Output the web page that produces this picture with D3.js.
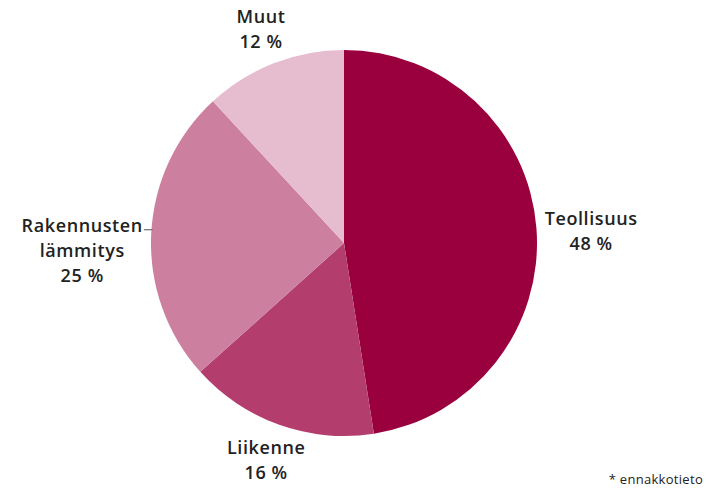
<!DOCTYPE html>
<html>
<head>
<meta charset="utf-8">
<script src="https://cdn.jsdelivr.net/npm/d3@7"></script>
<style>
  body { margin: 0; background: #fff; }
  text { font-family: "Open Sans", "DejaVu Sans", sans-serif; fill: #222; }
</style>
</head>
<body>
<div id="chart"></div>
<script>
(function() {
    var width = 712,
        height = 494;

    var categories = [["Teollisuus"], ["Liikenne"], ["Rakennusten", "lämmitys"], ["Muut"]];
    var shares = [48, 16, 25, 12];
    var colours = ["#99003d", "#b33d6d", "#cc7f9f", "#e6bccf"];

    var data = shares.map(function(v, i) {
        return { lines: categories[i], value: v, colour: colours[i] };
    });

    var cx = 344, cy = 243, radius = 193;

    var svg = d3.select("#chart")
        .append("svg")
        .attr("width", width)
        .attr("height", height);

    var g = svg.append("g")
        .attr("transform", "translate(" + cx + "," + cy + ")");

    var pie = d3.pie().sort(null).value(function(d) { return d.value; });
    var arc = d3.arc().innerRadius(0).outerRadius(radius);

    var arcs = pie(data);

    g.selectAll(".slice")
        .data(arcs)
        .enter().append("path")
        .attr("class", "slice")
        .attr("d", arc)
        .attr("fill", function(d) { return d.data.colour; });

    var lineH = 25;
    arcs.forEach(function(d) {
        var a = (d.startAngle + d.endAngle) / 2;
        var lines = d.data.lines.concat([d.data.value + " %"]);
        var label = g.append("text")
            .attr("text-anchor", "middle")
            .style("font-size", "18px")
            .style("font-weight", 600)
            .style("letter-spacing", "0.6px");
        lines.forEach(function(t, i) {
            label.append("tspan").attr("x", 0).attr("dy", i === 0 ? 0 : lineH).text(t);
        });
        var bb = label.node().getBBox();
        var w = bb.width, h = lines.length * lineH;
        var r = 200 + w / 2 * Math.abs(Math.sin(a)) + (h / 2 - 5) * Math.abs(Math.cos(a));
        var x = r * Math.sin(a), y = -r * Math.cos(a);
        // side labels hang from their first line, top/bottom ones are centred
        var y0 = Math.abs(Math.sin(a)) > 0.7 ? y + 1 : y - h / 2 + 17;
        label.attr("transform", "translate(" + x + "," + y0 + ")");
        if (lines.length > 2) {
            var ly = y0 - 2;
            var edge = -Math.sqrt(radius * radius - ly * ly);
            g.append("line")
                .attr("x1", x + w / 2 + 1).attr("x2", edge + 1)
                .attr("y1", ly).attr("y2", ly)
                .attr("stroke", "#555").attr("stroke-width", 1);
        }
    });

    svg.append("text")
        .attr("x", 703)
        .attr("y", 484)
        .attr("text-anchor", "end")
        .style("font-size", "13px")
        .style("letter-spacing", "0.3px")
        .text("* ennakkotieto");
})();
</script>
</body>
</html>
